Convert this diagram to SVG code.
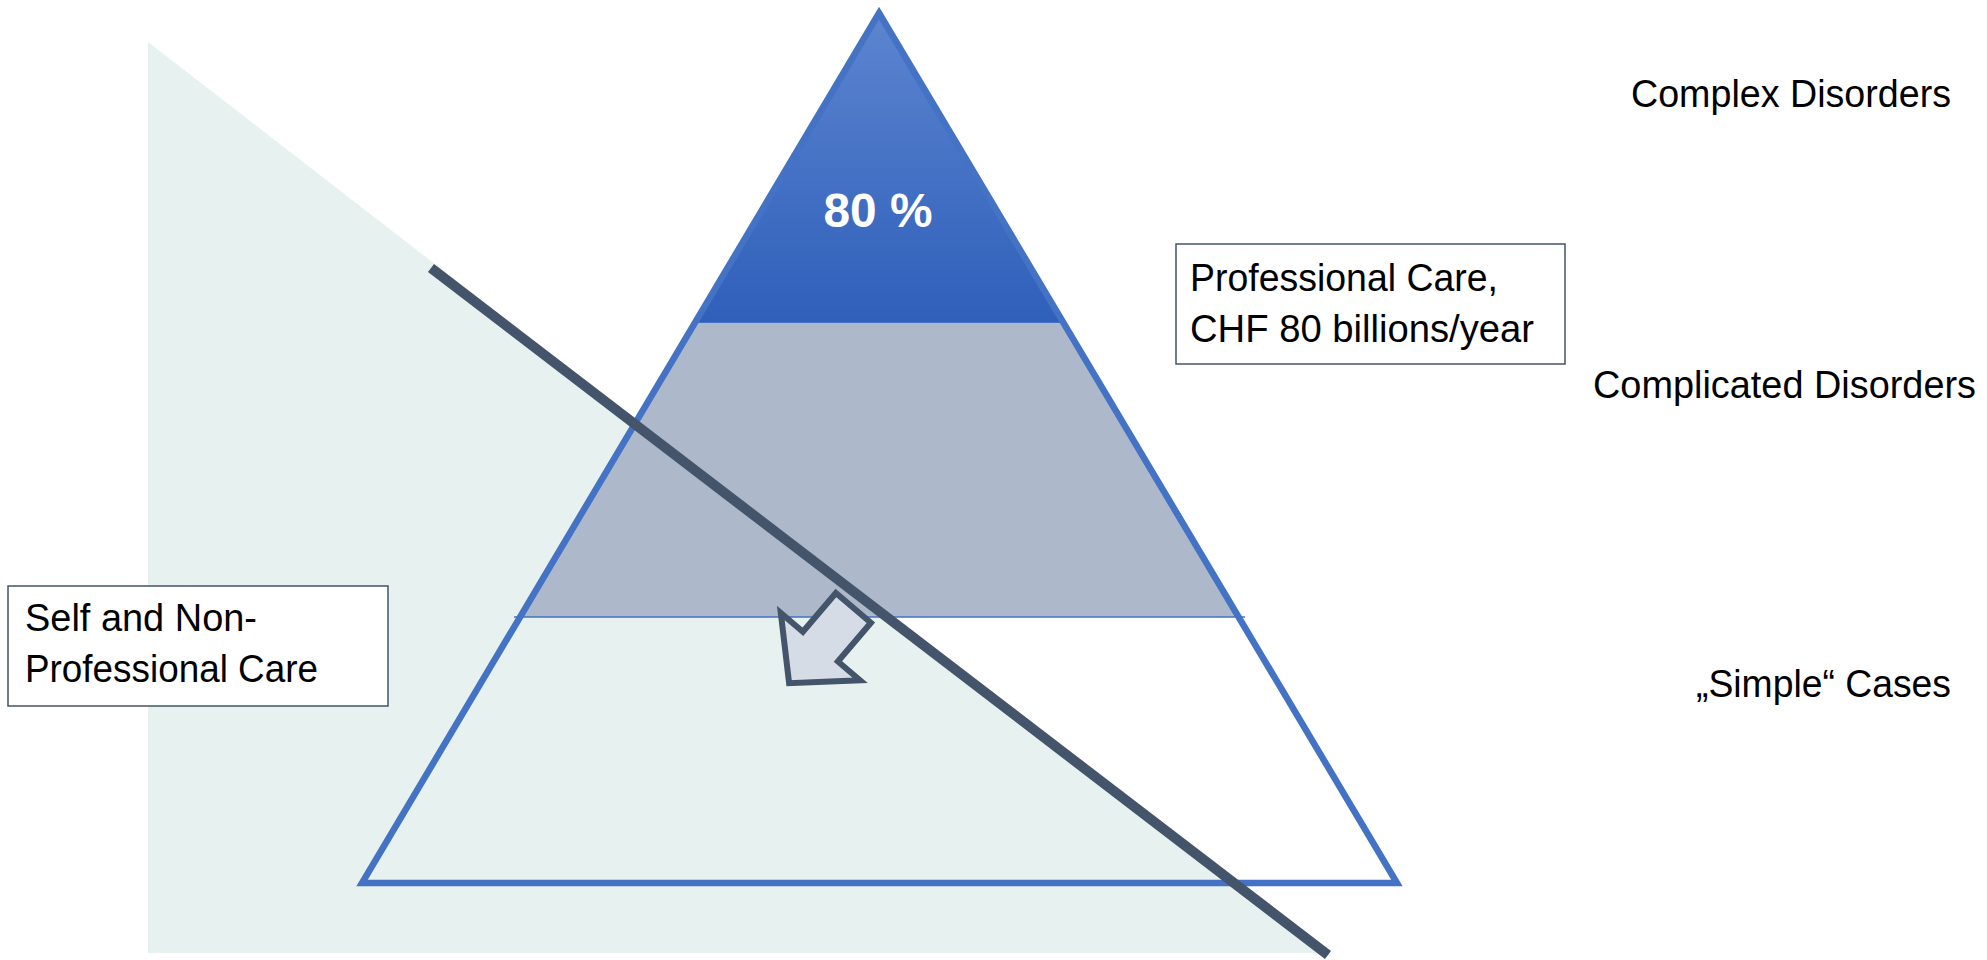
<svg xmlns="http://www.w3.org/2000/svg" width="1987" height="960" viewBox="0 0 1987 960">
  <defs>
    <linearGradient id="topGrad" x1="0" y1="0" x2="0" y2="1">
      <stop offset="0" stop-color="#5d85d0"/>
      <stop offset="1" stop-color="#2e5fba"/>
    </linearGradient>
  </defs>
  <style>
    .lbl { font-family: "Liberation Sans", Arial, sans-serif; font-size: 38px; fill: #000000; }
    .box { fill: #ffffff; stroke: #44546a; stroke-width: 1.5; }
    .pct { font-family: "Liberation Sans", Arial, sans-serif; font-size: 48px; font-weight: bold; fill: #ffffff; }
  </style>
  <rect x="0" y="0" width="1987" height="960" fill="#ffffff"/>

  <g id="self-care-area">
    <polygon points="148,42 148,953 1325,953" fill="#e7f1ef"/>
  </g>

  <g id="pyramid">
    <polygon id="tier-top" points="879,13 1064,323 695,323" fill="url(#topGrad)" stroke="#4a78c9" stroke-width="1.5"/>
    <polygon id="tier-middle" points="695,323 1064,323 1239,617 520,617" fill="#adb8ca"/>
    <line x1="514" y1="617" x2="1245" y2="617" stroke="#4472c4" stroke-width="1.5"/>
    <polygon id="pyramid-outline" points="879,13 1397,883 362,883" fill="none" stroke="#4472c4" stroke-width="6.5" stroke-linejoin="miter"/>
    <text class="pct" x="878" y="227" text-anchor="middle" textLength="109" lengthAdjust="spacingAndGlyphs">80 %</text>
  </g>

  <g id="connectors">
    <line x1="431" y1="268" x2="1328" y2="955" stroke="#44546a" stroke-width="10"/>
    <polygon id="shift-arrow" points="835.9,593 870.9,622.8 837.9,661.5 860,680.3 789.1,683.2 780.8,612.9 802.9,631.7" fill="#d6dce5" stroke="#44546a" stroke-width="6" stroke-linejoin="miter"/>
  </g>

  <g id="professional-care">
    <rect class="box" x="1176" y="244" width="389" height="120"/>
    <text class="lbl" x="1190" y="291" textLength="308" lengthAdjust="spacingAndGlyphs">Professional Care,</text>
    <text class="lbl" x="1190" y="342" textLength="344" lengthAdjust="spacingAndGlyphs">CHF 80 billions/year</text>
  </g>

  <g id="self-care">
    <rect class="box" x="8" y="586" width="380" height="120"/>
    <text class="lbl" x="25" y="631" textLength="232" lengthAdjust="spacingAndGlyphs">Self and Non-</text>
    <text class="lbl" x="25" y="682" textLength="293" lengthAdjust="spacingAndGlyphs">Professional Care</text>
  </g>

  <g id="label-complex">
    <text class="lbl" x="1631" y="107" textLength="320" lengthAdjust="spacingAndGlyphs">Complex Disorders</text>
  </g>
  <g id="label-complicated">
    <text class="lbl" x="1593" y="398" textLength="383" lengthAdjust="spacingAndGlyphs">Complicated Disorders</text>
  </g>
  <g id="label-simple">
    <text class="lbl" x="1696" y="697" textLength="255" lengthAdjust="spacingAndGlyphs">„Simple“ Cases</text>
  </g>
</svg>
